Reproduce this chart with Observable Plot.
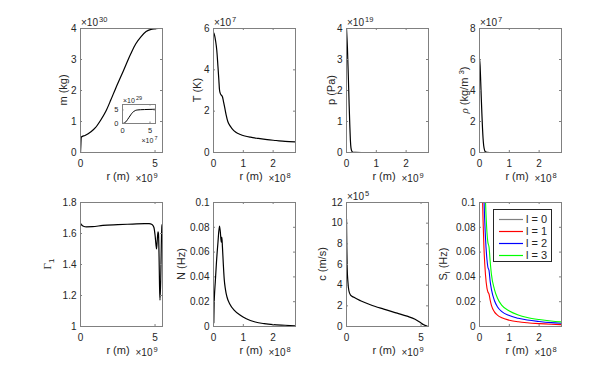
<!DOCTYPE html>
<html><head><meta charset="utf-8">
<script src="https://cdn.jsdelivr.net/npm/d3@7"></script>
<script src="https://cdn.jsdelivr.net/npm/@observablehq/plot@0.6"></script>
<style>
body{margin:0;background:#fff;font-family:"Liberation Sans",Arial,sans-serif;}
#fig{position:relative;width:598px;height:367px;overflow:hidden;background:#fff;}
#fig > svg{position:absolute;background:transparent;overflow:visible;}
.lab{position:absolute;font-size:11px;color:#262626;white-space:nowrap;line-height:1;}
.ylab{transform:translate(-50%,-50%) rotate(-90deg);}
.xlab{transform:translate(-50%,-50%);}
.lab sub{font-size:8px;vertical-align:0;position:relative;top:3px;}
.lab sup{font-size:8px;vertical-align:0;position:relative;top:-4px;}
.serif{font-family:"Liberation Serif","DejaVu Serif",serif;}
.expo{position:absolute;font-size:10px;color:#262626;white-space:nowrap;line-height:10px;}
.expo sup{font-size:7.5px;vertical-align:0;position:relative;top:-4px;margin-left:1px;}
.expo.small{font-size:7px;line-height:7px;}
.expo.small sup{font-size:5.5px;top:-3px;}
#legend{position:absolute;background:#fff;border:1px solid #262626;box-sizing:border-box;}
#legend .row{position:absolute;left:0;height:12px;font-size:11px;color:#262626;white-space:nowrap;}
#legend svg.sw{position:absolute;left:5px;top:5px;width:24px;height:3px;overflow:visible;}
#legend .tx{position:absolute;left:32px;top:0;line-height:12px;}
</style></head><body><div id="fig"></div>
<script>
// ---------------- data (in the units shown by each axis multiplier) ----------------
// Panel 1: m (x10^30 kg) vs r (x10^9 m)
const rM = [0, 0.02, 0.04, 0.06, 0.3, 0.7, 1.0, 1.35, 1.7, 2.03, 2.35, 2.7, 3.05, 3.38, 3.7, 4.05, 4.4, 4.73, 5.0, 5.2, 5.5];
const mM = [0, 0.2, 0.44, 0.5, 0.55, 0.67, 0.8, 1.04, 1.33, 1.69, 2.06, 2.44, 2.83, 3.19, 3.5, 3.73, 3.9, 3.97, 3.99, 4.0, 4.0];
// Inset: m (x10^29 kg) vs r (x10^7 m)
const rIn = [0, 0.3, 0.6, 0.9, 1.2, 1.5, 1.8, 2.1, 2.4, 2.8, 3.3, 4, 5, 6];
const mIn = [0, 0.15, 0.6, 1.4, 2.3, 3.2, 4.0, 4.5, 4.85, 5.0, 5.08, 5.14, 5.2, 5.25];
// Panel 2: T (x10^7 K) vs r (x10^8 m)
const rT = [0, 0.03, 0.07, 0.11, 0.15, 0.18, 0.2, 0.23, 0.26, 0.3, 0.33, 0.37, 0.42, 0.48, 0.55, 0.62, 0.75, 0.9, 1.05, 1.24, 1.5, 1.8, 2.1, 2.4, 2.75];
const T  = [5.8, 5.7, 5.4, 4.95, 4.15, 3.5, 3.05, 2.85, 2.78, 2.7, 2.5, 2.22, 1.85, 1.5, 1.3, 1.16, 0.98, 0.87, 0.8, 0.74, 0.68, 0.62, 0.58, 0.54, 0.51];
// Panel 3: p (x10^19 Pa) vs r (x10^8 m)
const rP = [0, 0.03, 0.06, 0.09, 0.11, 0.13, 0.15, 0.18, 0.22, 0.3, 0.5, 1, 2, 2.75];
const P  = [4.0, 3.4, 2.5, 1.5, 0.9, 0.4, 0.15, 0.04, 0.008, 0.001, 0, 0, 0, 0];
// Panel 4: rho (x10^7 kg/m^3) vs r (x10^8 m)
const rR = [0, 0.02, 0.04, 0.06, 0.08, 0.1, 0.12, 0.14, 0.17, 0.2, 0.25, 0.35, 1, 2, 2.75];
const RHO = [6.05, 5.6, 4.6, 3.5, 2.5, 1.6, 0.9, 0.45, 0.15, 0.04, 0.01, 0, 0, 0, 0];
// Panel 5: Gamma_1 vs r (x10^9 m)
const rG = [0, 0.08, 0.2, 0.4, 0.8, 1.5, 2.5, 3.5, 4.3, 4.6, 4.8, 4.92, 5.0, 5.06, 5.1, 5.15, 5.2, 5.23, 5.27, 5.3, 5.33, 5.38, 5.42, 5.46, 5.5];
const G1 = [1.665, 1.655, 1.647, 1.643, 1.644, 1.652, 1.657, 1.661, 1.664, 1.664, 1.658, 1.64, 1.59, 1.53, 1.5, 1.56, 1.61, 1.6, 1.45, 1.27, 1.17, 1.3, 1.52, 1.65, 1.66];
// Panel 6: N (Hz) vs r (x10^8 m)
const rN = [0.01, 0.02, 0.03, 0.06, 0.1, 0.15, 0.2, 0.23, 0.26, 0.28, 0.3, 0.33, 0.36, 0.4, 0.45, 0.55, 0.7, 0.9, 1.1, 1.4, 1.7, 2.0, 2.4, 2.75];
const N  = [0.003, 0.018, 0.024, 0.036, 0.052, 0.068, 0.081, 0.076, 0.068, 0.072, 0.064, 0.05, 0.038, 0.03, 0.024, 0.018, 0.013, 0.009, 0.0062, 0.0036, 0.0023, 0.0015, 0.001, 0.0006];
// Panel 7: c (x10^5 m/s) vs r (x10^9 m)
const rC = [0, 0.01, 0.02, 0.045, 0.09, 0.16, 0.27, 0.5, 0.94, 1.6, 2.5, 3.4, 4.06, 4.6, 4.96, 5.18, 5.3, 5.46];
const C  = [10.4, 9.0, 7.7, 5.7, 4.4, 3.46, 3.04, 2.82, 2.49, 2.1, 1.68, 1.29, 1.0, 0.71, 0.39, 0.16, 0.08, 0];
// Panel 8: S_l (Hz) vs r (x10^8 m)
const rS = [0.05, 0.08, 0.1, 0.12, 0.15, 0.2, 0.25, 0.28, 0.32, 0.36, 0.4, 0.5, 0.6, 0.75, 1.0, 1.3, 1.6, 2.0, 2.4, 2.75];
const S0 = [0, 0, 0, 0, 0, 0, 0, 0, 0, 0, 0, 0, 0, 0, 0, 0, 0, 0, 0, 0];
const S1 = [0.2, 0.135, 0.105, 0.085, 0.063, 0.042, 0.031, 0.028, 0.026, 0.021, 0.017, 0.0118, 0.0092, 0.007, 0.0051, 0.0038, 0.003, 0.0023, 0.0018, 0.0015];
const S2 = [0.35, 0.23, 0.18, 0.145, 0.105, 0.072, 0.054, 0.048, 0.045, 0.036, 0.03, 0.021, 0.016, 0.012, 0.0088, 0.0066, 0.0052, 0.004, 0.0031, 0.0026];
const S3 = [0.49, 0.33, 0.26, 0.21, 0.15, 0.102, 0.076, 0.068, 0.064, 0.052, 0.042, 0.03, 0.023, 0.017, 0.0125, 0.0093, 0.0073, 0.0056, 0.0044, 0.0037];
const lNames = ["l = 0", "l = 1", "l = 2", "l = 3"];
const lColors = ["#808080", "#ff0000", "#0000ff", "#00ff00"];

// ---------------- layout ----------------
const fig = document.getElementById("fig");
const ML = 45, MR = 15, MT = 30, MB = 45;
const colL = [80, 213, 346, 479], FW = 82, FH = 124;
const rowT = [28, 202];
const AX = "#808080";
const fmt = d => String(d);

function rows(xs, ys) { return xs.map((x, i) => ({x, y: ys[i]})); }

function panel({left, top, fw = FW, fh = FH, xDomain, yDomain, xTicks, yTicks, series, font = 10, pad = 7, ypad = 4, tick = 2}) {
  const marks = series.map(s => Plot.line(rows(s.x, s.y), {x: "x", y: "y", stroke: s.color || "#000", strokeWidth: s.w || 1.2, curve: "monotone-x", clip: true}));
  const svg = Plot.plot({
    width: fw + ML + MR, height: fh + MT + MB,
    marginLeft: ML, marginRight: MR, marginTop: MT, marginBottom: MB,
    style: {background: "transparent", fontFamily: "Liberation Sans, Arial, sans-serif", fontSize: font + "px", color: "#262626", overflow: "visible"},
    x: {domain: xDomain, ticks: xTicks, tickFormat: fmt, tickSize: 0, tickPadding: pad, label: null},
    y: {domain: yDomain, ticks: yTicks, tickFormat: fmt, tickSize: 0, tickPadding: ypad, label: null},
    marks: [
      ...marks,
      Plot.frame({stroke: AX}),
      Plot.tickX(xTicks, {x: d => d, insetTop: fh - tick, stroke: AX}),
      Plot.tickX(xTicks, {x: d => d, insetBottom: fh - tick, stroke: AX}),
      Plot.tickY(yTicks, {y: d => d, insetRight: fw - tick, stroke: AX}),
      Plot.tickY(yTicks, {y: d => d, insetLeft: fw - tick, stroke: AX})
    ]
  });
  svg.style.left = (left - ML) + "px";
  svg.style.top = (top - MT) + "px";
  fig.appendChild(svg);
}

function html(cls, x, y, content) {
  const d = document.createElement("div");
  d.className = cls; d.style.left = x + "px"; d.style.top = y + "px";
  d.innerHTML = content; fig.appendChild(d); return d;
}
function expo(x, cy, p, small) {
  html("expo" + (small ? " small" : ""), x, cy - (small ? 3.5 : 5), "×10<sup>" + p + "</sup>");
}

// ---------------- panels ----------------
const R9 = [0, 5.5], R8 = [0, 2.75];
panel({left: colL[0], top: rowT[0], xDomain: R9, yDomain: [0, 4], xTicks: [0, 5], yTicks: [0, 1, 2, 3, 4], series: [{x: rM, y: mM}]});
panel({left: colL[1], top: rowT[0], xDomain: R8, yDomain: [0, 6], xTicks: [0, 1, 2], yTicks: [0, 2, 4, 6], series: [{x: rT, y: T}]});
panel({left: colL[2], top: rowT[0], xDomain: R8, yDomain: [0, 4], xTicks: [0, 1, 2], yTicks: [0, 1, 2, 3, 4], series: [{x: rP, y: P}]});
panel({left: colL[3], top: rowT[0], xDomain: R8, yDomain: [0, 8], xTicks: [0, 1, 2], yTicks: [0, 2, 4, 6, 8], series: [{x: rR, y: RHO}]});
panel({left: colL[0], top: rowT[1], xDomain: R9, yDomain: [1, 1.8], xTicks: [0, 5], yTicks: [1, 1.2, 1.4, 1.6, 1.8], series: [{x: rG, y: G1}]});
panel({left: colL[1], top: rowT[1], xDomain: R8, yDomain: [0, 0.1], xTicks: [0, 1, 2], yTicks: [0, 0.02, 0.04, 0.06, 0.08, 0.1], series: [{x: rN, y: N}]});
panel({left: colL[2], top: rowT[1], xDomain: R9, yDomain: [0, 12], xTicks: [0, 5], yTicks: [0, 2, 4, 6, 8, 10, 12], series: [{x: rC, y: C}]});
panel({left: colL[3], top: rowT[1], xDomain: R8, yDomain: [0, 0.1], xTicks: [0, 1, 2], yTicks: [0, 0.02, 0.04, 0.06, 0.08, 0.1],
  series: [S0, S1, S2, S3].map((s, i) => ({x: rS, y: s, color: lColors[i], w: 1.1}))});
// inset
panel({left: 122, top: 104, fw: 33, fh: 19, xDomain: [0, 6], yDomain: [0, 7], xTicks: [0, 5], yTicks: [0, 5], font: 7.5, pad: 4, ypad: 4, tick: 1.5, series: [{x: rIn, y: mIn, w: 1}]});

// ---------------- texts ----------------
const ylabels = [
  [colL[0] - 16.7, rowT[0], "m (kg)"],
  [colL[1] - 16, rowT[0], "T (K)"],
  [colL[2] - 15, rowT[0], "p (Pa)"],
  [colL[3] - 15.5, rowT[0], "<i class='serif'>ρ</i> (kg/m <sup>3</sup>)"],
  [colL[0] - 33, rowT[1], "<span class='serif'>Γ</span><sub>1</sub>"],
  [colL[1] - 32.3, rowT[1], "N (Hz)"],
  [colL[2] - 24.5, rowT[1], "c (m/s)"],
  [colL[3] - 36.3, rowT[1], "S<sub>l</sub> (Hz)"]
];
ylabels.forEach(([x, t, s]) => html("lab ylab", x, t + FH / 2, s));
const yExp = [[0, 0, 30], [1, 0, 7], [2, 0, 19], [3, 0, 7], [2, 1, 5]];
yExp.forEach(([c, r, p]) => expo(colL[c] + 1, rowT[r] - 5.5, p));
[0, 1].forEach(r => colL.forEach((cl, c) => {
  html("lab xlab", cl + 38, rowT[r] + FH + 24, "r (m)");
  expo(cl + FW - 26.5, rowT[r] + FH + 27, (c === 0 || c === 2) ? 9 : 8);
}));
expo(123, 100, 29, true);
expo(141.5, 140.5, 7, true);

// legend
const lg = document.createElement("div");
lg.id = "legend";
Object.assign(lg.style, {left: "493px", top: "209px", width: "59px", height: "53px"});
lNames.forEach((nm, i) => {
  const row = document.createElement("div");
  row.className = "row"; row.style.top = (2.5 + i * 12.3) + "px"; row.style.width = "57px";
  row.innerHTML = `<svg class="sw" viewBox="0 0 24 3"><line x1="0" x2="24" y1="1.5" y2="1.5" stroke="${lColors[i]}" stroke-width="1.2"/></svg><span class="tx">${nm}</span>`;
  lg.appendChild(row);
});
fig.appendChild(lg);
</script></body></html>
